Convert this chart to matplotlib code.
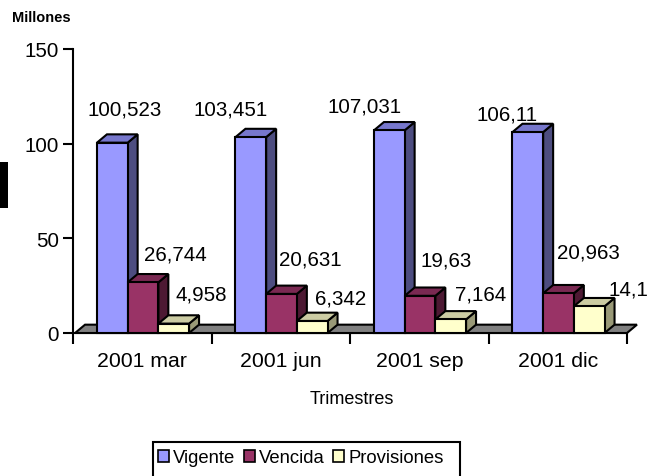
import matplotlib
matplotlib.use("Agg")
import matplotlib.pyplot as plt
from matplotlib.patches import Polygon, Rectangle, Patch

plt.rcParams['font.family'] = ['Liberation Sans', 'DejaVu Sans']

# data (millones)
quarters = ["2001 mar", "2001 jun", "2001 sep", "2001 dic"]
series = ["Vigente", "Vencida", "Provisiones"]
vigente = [100.523, 103.451, 107.031, 106.11]
vencida = [26.744, 20.631, 19.63, 20.963]
provisiones = [4.958, 6.342, 7.164, 14.1]

# face colours: front, top, side
FRONT = ["#9999FF", "#993366", "#FFFFCC"]
TOP = ["#7777CC", "#7A2952", "#CCCCA3"]
SIDE = ["#4D4D80", "#4D1933", "#999977"]

# label nudges in pixels (dx, dy) from the front-top centre of each bar
LABEL_OFF = [
    [(12, 34), (-20, 28), (-25, 24), (-21, 18)],
    [(32, 28), (29, 35), (26, 36), (30, 41)],
    [(28, 30), (28, 23), (30, 25), (39, 17)],
]

W, H = 648, 477
fig = plt.figure(figsize=(W / 100, H / 100), dpi=100)
ax = fig.add_axes([73 / W, 1 - 334 / H, 554 / W, 284 / H])
ax.set_xlim(0, 4)
ax.set_ylim(0, 150)

bw = 0.2217      # bar width (category units)
start = 0.173    # first bar offset in a category
ddx = 0.072      # 3d depth, x
ddy = 4.4        # 3d depth, y

# floor
floor = Polygon([(0.015, 0), (4.0, 0), (4.0 + ddx, ddy), (0.015 + ddx, ddy)],
                closed=True, facecolor="#808080", edgecolor="black", lw=1.5,
                zorder=1, clip_on=False)
ax.add_patch(floor)

values = [vigente, vencida, provisiones]
for k, vals in enumerate(values):
    xs = [i + start + k * bw for i in range(len(quarters))]
    z = 2 + k * 0.5
    ax.bar(xs, vals, bw, align="edge", color=FRONT[k], edgecolor="black",
           lw=1.5, zorder=z + 0.2, clip_on=False)
    for i, (x, v) in enumerate(zip(xs, vals)):
        top = Polygon([(x, v), (x + bw, v), (x + bw + ddx, v + ddy), (x + ddx, v + ddy)],
                      closed=True, facecolor=TOP[k], edgecolor="black", lw=1.5,
                      zorder=z, clip_on=False)
        side = Polygon([(x + bw, 0), (x + bw + ddx, ddy), (x + bw + ddx, v + ddy), (x + bw, v)],
                       closed=True, facecolor=SIDE[k], edgecolor="black", lw=1.5,
                       zorder=z, clip_on=False)
        ax.add_patch(side)
        ax.add_patch(top)
        ox, oy = LABEL_OFF[k][i]
        ax.annotate(f"{v:g}".replace(".", ","), xy=(x + bw / 2, v),
                    xytext=(ox, oy), textcoords="offset pixels",
                    ha="center", va="center", fontsize=14.8, color="black",
                    zorder=10, annotation_clip=False)

# axes styling
for s in ["top", "right"]:
    ax.spines[s].set_visible(False)
for s in ["left", "bottom"]:
    ax.spines[s].set_linewidth(1.5)
    ax.spines[s].set_zorder(0.5)

ax.set_yticks([0, 50, 100, 150])
ax.tick_params(axis="y", length=7, width=1.5, labelsize=14.8, pad=3)
ax.set_xticks(range(len(quarters) + 1))
ax.set_xticklabels([])
ax.set_xticks([i + 0.5 for i in range(len(quarters))], minor=True)
ax.set_xticklabels(quarters, minor=True, fontsize=15.3)
ax.tick_params(axis="x", which="major", length=8, width=1.5)
ax.tick_params(axis="x", which="minor", length=0, pad=13)

fig.text(352 / W, 1 - 399 / H, "Trimestres", ha="center", va="center", fontsize=13)
fig.text(12 / W, 1 - 18 / H, "Millones", ha="left", va="center", fontsize=10.5,
         fontweight="bold")

# stray black block at the left edge
fig.add_artist(Rectangle((0, 1 - 209 / H), 8 / W, 46 / H, transform=fig.transFigure,
                         facecolor="black", edgecolor="none"))

# legend
handles = [Patch(facecolor=FRONT[k], edgecolor="black", linewidth=1.2) for k in range(3)]
fig.legend(handles, series, ncol=3, frameon=False, loc="center left",
           bbox_to_anchor=(158 / W, 1 - 459 / H), fontsize=13.3,
           handlelength=0.62, handleheight=0.62, handletextpad=0.2,
           columnspacing=0.45, borderaxespad=0, borderpad=0)
fig.add_artist(Rectangle((153 / W, -0.1), 307 / W, (477 - 443) / H + 0.1,
                         transform=fig.transFigure, fill=False, edgecolor="black",
                         lw=1.5, clip_on=False))

fig.savefig("out.png", dpi=100, facecolor="white")
